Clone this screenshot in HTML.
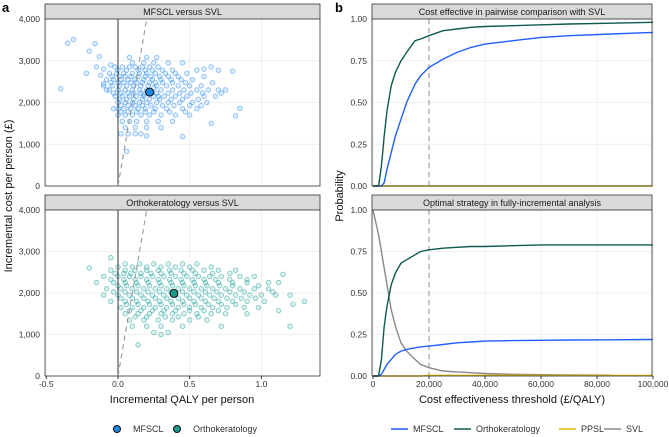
<!DOCTYPE html>
<html><head><meta charset="utf-8"><style>
body{margin:0;background:#fff;font-family:"Liberation Sans",sans-serif}
svg{display:block}
text{font-family:"Liberation Sans",sans-serif}
</style></head><body>
<svg id="c" width="669" height="437" viewBox="0 0 669 437"></svg>
<script>
// ---- data ----
const mfsclRows=[[3080,[0.08,0.2,0.27]],[2950,[0.1,0.18,0.25,0.35,0.45]],[2850,[-0.02,0.03,0.08,0.12,0.17,0.22,0.28]],
[2775,[0.0,0.06,0.14,0.19,0.24,0.31,0.38,0.55,0.7]],
[2700,[-0.06,-0.01,0.04,0.1,0.15,0.2,0.26,0.33,0.4,0.48]],[2625,[-0.04,0.01,0.05,0.09,0.14,0.19,0.23,0.29,0.35,0.42,0.6]],
[2550,[-0.08,-0.03,0.02,0.07,0.12,0.18,0.24,0.3,0.37,0.44,0.52]],[2475,[-0.05,0.0,0.04,0.09,0.13,0.17,0.22,0.26,0.31,0.38,0.47,0.66]],
[2400,[-0.1,-0.04,0.01,0.06,0.11,0.16,0.21,0.27,0.34,0.42,0.5,0.58]],[2300,[-0.06,0.0,0.05,0.1,0.15,0.2,0.3,0.38,0.46,0.55,0.63,0.7]],
[2225,[-0.03,0.02,0.07,0.11,0.16,0.24,0.27,0.35,0.43,0.51,0.59,0.72]],
[2150,[-0.02,0.03,0.08,0.13,0.18,0.25,0.32,0.4,0.48,0.6,0.68]],[2075,[0.01,0.06,0.11,0.17,0.22,0.29,0.37,0.45,0.56]],
[2000,[0.0,0.05,0.1,0.15,0.2,0.27,0.35,0.43,0.52,0.62]],[1925,[0.02,0.07,0.12,0.17,0.23,0.31,0.39,0.5,0.58]],
[1850,[0.0,0.04,0.09,0.14,0.19,0.26,0.34,0.45,0.55]],[1775,[0.02,0.07,0.13,0.19,0.25,0.36,0.47]],[1700,[0.0,0.05,0.1,0.16,0.22,0.3,0.4,0.5]],
[1550,[0.03,0.08,0.13,0.2,0.28,0.38]],[1400,[0.05,0.12,0.2,0.3]],[1250,[0.02,0.07,0.12,0.16]]];
const mfsclExtra=[[-0.4,2330],[-0.35,3420],[-0.31,3510],[-0.2,3230],[-0.16,3410],[-0.13,3100],[-0.22,2700],[-0.15,2850],[-0.1,2800],[-0.12,2650],[-0.05,2900],[-0.08,2300],[-0.1,2450],[-0.03,1850],[0.06,830],[0.2,1200],[0.45,1180],[0.65,1500],[0.82,1680],[0.85,1860],[0.8,2750],[0.75,2300],[0.65,2850],[0.6,2800],[0.25,2350],[0.18,2200],[0.28,2150]];
const orthoRows=[[2700,[0.05,0.15,0.25,0.35,0.45,0.55]],[2625,[0.0,0.1,0.2,0.3,0.4,0.5,0.65]],[2550,[-0.05,0.05,0.12,0.2,0.28,0.36,0.44,0.52,0.6,0.7,0.82]],
[2475,[-0.02,0.04,0.09,0.16,0.23,0.3,0.37,0.46,0.54,0.66,0.78]],
[2400,[-0.1,0.0,0.08,0.16,0.24,0.32,0.4,0.48,0.56,0.64,0.72,0.85,0.95]],[2325,[-0.05,0.04,0.12,0.2,0.28,0.36,0.44,0.52,0.6,0.68,0.78,0.9]],
[2250,[-0.15,-0.03,0.05,0.13,0.21,0.29,0.37,0.45,0.53,0.61,0.7,0.8,0.9,1.05,1.12]],[2175,[0.0,0.06,0.14,0.22,0.3,0.38,0.46,0.54,0.62,0.71,0.8,0.98]],
[2100,[-0.08,0.02,0.1,0.18,0.26,0.34,0.42,0.5,0.58,0.66,0.75,0.85,0.95,1.05]],[2025,[-0.03,0.05,0.13,0.21,0.29,0.37,0.45,0.53,0.61,0.69,0.78,0.88,1.08]],
[1950,[-0.1,0.0,0.08,0.16,0.24,0.32,0.4,0.48,0.56,0.64,0.72,0.82,0.92,1.0,1.1,1.2]],[1875,[0.02,0.1,0.18,0.26,0.34,0.42,0.5,0.58,0.67,0.76,0.86,0.96]],
[1800,[-0.05,0.05,0.13,0.21,0.29,0.37,0.45,0.53,0.61,0.7,0.8,0.9,1.02,1.3]],[1725,[0.06,0.14,0.22,0.3,0.38,0.46,0.54,0.63,0.72,0.82]],
[1650,[0.02,0.1,0.18,0.26,0.34,0.42,0.5,0.58,0.66,0.76,0.88,0.98]],[1575,[0.08,0.16,0.24,0.32,0.4,0.5,0.6,0.7,1.12]],
[1500,[0.05,0.14,0.22,0.3,0.38,0.46,0.55,0.65,0.75,0.9]],[1425,[0.12,0.2,0.33,0.42,0.56]],[1350,[0.08,0.18,0.28,0.38,0.5,0.62]],[1200,[0.1,0.2,0.3,0.45,0.72,1.2]],[1050,[0.25,0.35]]];
const orthoExtra=[[0.14,750],[-0.2,2600],[-0.05,2850],[0.3,1000],[1.15,2450],[1.22,1730]];
const mfsclMean=[0.22,2250], orthoMean=[0.39,1990];
const wtp=[0,2000,3000,4000,5000,6500,8000,10000,12000,15000,17000,20000,25000,30000,35000,40000,50000,60000,70000,85000,100000];
const ceOrtho=[0,0,0.12,0.3,0.45,0.6,0.68,0.75,0.8,0.87,0.88,0.9,0.93,0.94,0.95,0.955,0.96,0.965,0.97,0.975,0.98];
const ceMfscl=[0,0,0,0.02,0.1,0.2,0.3,0.4,0.5,0.61,0.66,0.71,0.76,0.8,0.83,0.85,0.87,0.89,0.9,0.91,0.92];
const ceSvlP=[0,0,0,0,0,0,0,0,0,0,0,0,0,0,0,0,0,0,0,0,0];
const optOrtho=[0,0,0.1,0.3,0.42,0.55,0.62,0.68,0.7,0.73,0.75,0.76,0.77,0.775,0.78,0.78,0.785,0.79,0.79,0.79,0.79];
const optMfscl=[0,0,0.01,0.04,0.07,0.1,0.13,0.15,0.16,0.17,0.175,0.18,0.19,0.2,0.205,0.21,0.213,0.215,0.217,0.218,0.22];
const optSvl=[1,0.85,0.75,0.65,0.55,0.4,0.3,0.2,0.15,0.1,0.07,0.05,0.03,0.025,0.02,0.015,0.01,0.008,0.006,0.005,null];
const optPpsl=[0,0,0,0,0,0,0,0,0,0,0,0.004,0.004,0.004,0.004,0.004,0.004,0.003,0.003,0.003,0.003];
const costTicks=[0,1000,2000,3000,4000], qalyTicks=[-0.5,0,0.5,1.0], probTicks=[0,0.25,0.5,0.75,1], wtpTicks=[0,20000,40000,60000,80000,100000];

const S=document.getElementById('c'),NS='http://www.w3.org/2000/svg';
function el(t,a,p){const e=document.createElementNS(NS,t);for(const k in a)e.setAttribute(k,a[k]);(p||S).appendChild(e);return e;}
function tx(x,y,s,a){const e=el('text',Object.assign({x:x,y:y,'font-size':9,fill:'#333'},a||{}));e.textContent=s;return e;}
const fmt=v=>v.toLocaleString('en-US');

function panel(x0,x1,yTop,yBot,title,name){
  const g=el('g',{});
  const st=el('rect',{x:x0,y:yTop-15,width:x1-x0,height:15,fill:'#d9d9d9',stroke:'#333','stroke-width':0.8},g);
  
  const t=tx((x0+x1)/2,yTop-4,title,{'text-anchor':'middle','font-size':9,fill:'#1a1a1a'});g.appendChild(t);
  
  return g;
}
const aX0=45,aX1=320,qx=v=>118+(v)*143.4;
function scatter(yTop,yBot,rows,extra,mean,col,meanCol,title,name){
  const g=panel(aX0,aX1,yTop,yBot,title,name);
  const cy=v=>yBot-(v/4000)*(yBot-yTop);
  el('rect',{x:aX0,y:yTop,width:aX1-aX0,height:yBot-yTop,fill:'#fff'},g);
  costTicks.forEach(v=>{el('line',{x1:aX0,x2:aX1,y1:cy(v),y2:cy(v),stroke:'#ebebeb','stroke-width':0.8},g);
    const l=tx(40,cy(v)+3,fmt(v),{'text-anchor':'end','font-size':8.5});});
  qalyTicks.forEach(v=>el('line',{x1:qx(v),x2:qx(v),y1:yTop,y2:yBot,stroke:'#ebebeb','stroke-width':0.8},g));
  const pts=[];rows.forEach(r=>r[1].forEach(x=>pts.push([x,r[0]])));extra.forEach(p=>pts.push(p));
  pts.forEach(p=>{const c=el('circle',{cx:qx(p[0]),cy:cy(p[1]),r:2.3,fill:col,'fill-opacity':0.15,stroke:col,'stroke-opacity':0.6,'stroke-width':0.8},g);
    });
  el('line',{x1:qx(0),x2:qx(0),y1:yTop,y2:yBot,stroke:'#333','stroke-width':1},g);
  const th=el('line',{x1:qx(0),y1:cy(0),x2:qx(0.2),y2:cy(4000),stroke:'#999','stroke-width':1.1,'stroke-dasharray':'5,4'},g);
  
  const m=el('circle',{cx:qx(mean[0]),cy:cy(mean[1]),r:4,fill:meanCol,stroke:'#111','stroke-width':1},g);
  
  el('rect',{x:aX0,y:yTop,width:aX1-aX0,height:yBot-yTop,fill:'none',stroke:'#333','stroke-width':0.8},g);
}
scatter(19,186,mfsclRows,mfsclExtra,mfsclMean,'#2f8ef0','#1e88e5','MFSCL versus SVL','mfscl-scatter-panel');
scatter(210,376,orthoRows,orthoExtra,orthoMean,'#22a39c','#1c9a8c','Orthokeratology versus SVL','ortho-scatter-panel');
qalyTicks.forEach(v=>{el('line',{x1:qx(v),x2:qx(v),y1:376,y2:379,stroke:'#333'});
  const l=tx(qx(v),387,v===0?'0.0':(v===1?'1.0':String(v)),{'text-anchor':'middle','font-size':8.5});});
let t=tx(182,403,'Incremental QALY per person',{'text-anchor':'middle','font-size':11,fill:'#111'});
t=tx(0,0,'Incremental cost per person (£)',{'text-anchor':'middle','font-size':11,fill:'#111',transform:'translate(12,196) rotate(-90)'});
t=tx(2,12,'a',{'font-size':13,'font-weight':'bold',fill:'#000'});
t=tx(335,12,'b',{'font-size':13,'font-weight':'bold',fill:'#000'});

const bX0=372,bX1=652,wx=v=>373+v/100000*280;
function ceac(yTop,yBot,series,title,name){
  const g=panel(bX0,bX1,yTop,yBot,title,name);
  const py=v=>yBot-v*(yBot-yTop);
  probTicks.forEach(v=>{el('line',{x1:bX0,x2:bX1,y1:py(v),y2:py(v),stroke:'#ebebeb','stroke-width':0.8},g);
    const l=tx(367,py(v)+3,v.toFixed(2),{'text-anchor':'end','font-size':8.5});});
  wtpTicks.forEach(v=>el('line',{x1:wx(v),x2:wx(v),y1:yTop,y2:yBot,stroke:'#ebebeb','stroke-width':0.8},g));
  el('line',{x1:wx(20000),x2:wx(20000),y1:yTop,y2:yBot,stroke:'#999','stroke-width':1.1,'stroke-dasharray':'5,4'},g);
  series.forEach(s=>{let d='';s.v.forEach((v,i)=>{if(v===null)return;d+=(d?'L':'M')+wx(wtp[i]).toFixed(1)+','+py(v).toFixed(1);});
    const p=el('path',{d:d,fill:'none',stroke:s.c,'stroke-width':1.4},g);});
  el('rect',{x:bX0,y:yTop,width:bX1-bX0,height:yBot-yTop,fill:'none',stroke:'#333','stroke-width':0.8},g);
}
ceac(19,186,[{v:ceSvlP,c:'#e6b800',n:'ppsl-line'},{v:ceMfscl,c:'#1f5fff',n:'mfscl-line'},{v:ceOrtho,c:'#0d5a4f',n:'ortho-line'}],'Cost effective in pairwise comparison with SVL','pairwise-ceac-panel');
ceac(210,376,[{v:optSvl,c:'#888',n:'svl-line'},{v:optPpsl,c:'#e6b800',n:'ppsl-line'},{v:optMfscl,c:'#1f5fff',n:'mfscl-line'},{v:optOrtho,c:'#0d5a4f',n:'ortho-line'}],'Optimal strategy in fully-incremental analysis','optimal-strategy-panel');
wtpTicks.forEach(v=>{el('line',{x1:wx(v),x2:wx(v),y1:376,y2:379,stroke:'#333'});
  const l=tx(wx(v),387,fmt(v),{'text-anchor':'middle','font-size':8.5});});
t=tx(512,403,'Cost effectiveness threshold (£/QALY)',{'text-anchor':'middle','font-size':11,fill:'#111'});
t=tx(0,0,'Probability',{'text-anchor':'middle','font-size':11,fill:'#111',transform:'translate(343,196) rotate(-90)'});

[[117,'#1e88e5','MFSCL',133],[177,'#1c9a8c','Orthokeratology',193]].forEach(l=>{
  const c=el('circle',{cx:l[0],cy:429,r:3.5,fill:l[1],stroke:'#111','stroke-width':1});
  const tt=tx(l[3],432,l[2],{'font-size':9});});
[[391,'#1f5fff','MFSCL'],[454,'#0d5a4f','Orthokeratology'],[559,'#e6b800','PPSL'],[604,'#888','SVL']].forEach(l=>{
  const ln=el('line',{x1:l[0],x2:l[0]+17,y1:429,y2:429,stroke:l[1],'stroke-width':1.6});
  const tt=tx(l[0]+22,432,l[2],{'font-size':9});});
</script>
</body></html>
